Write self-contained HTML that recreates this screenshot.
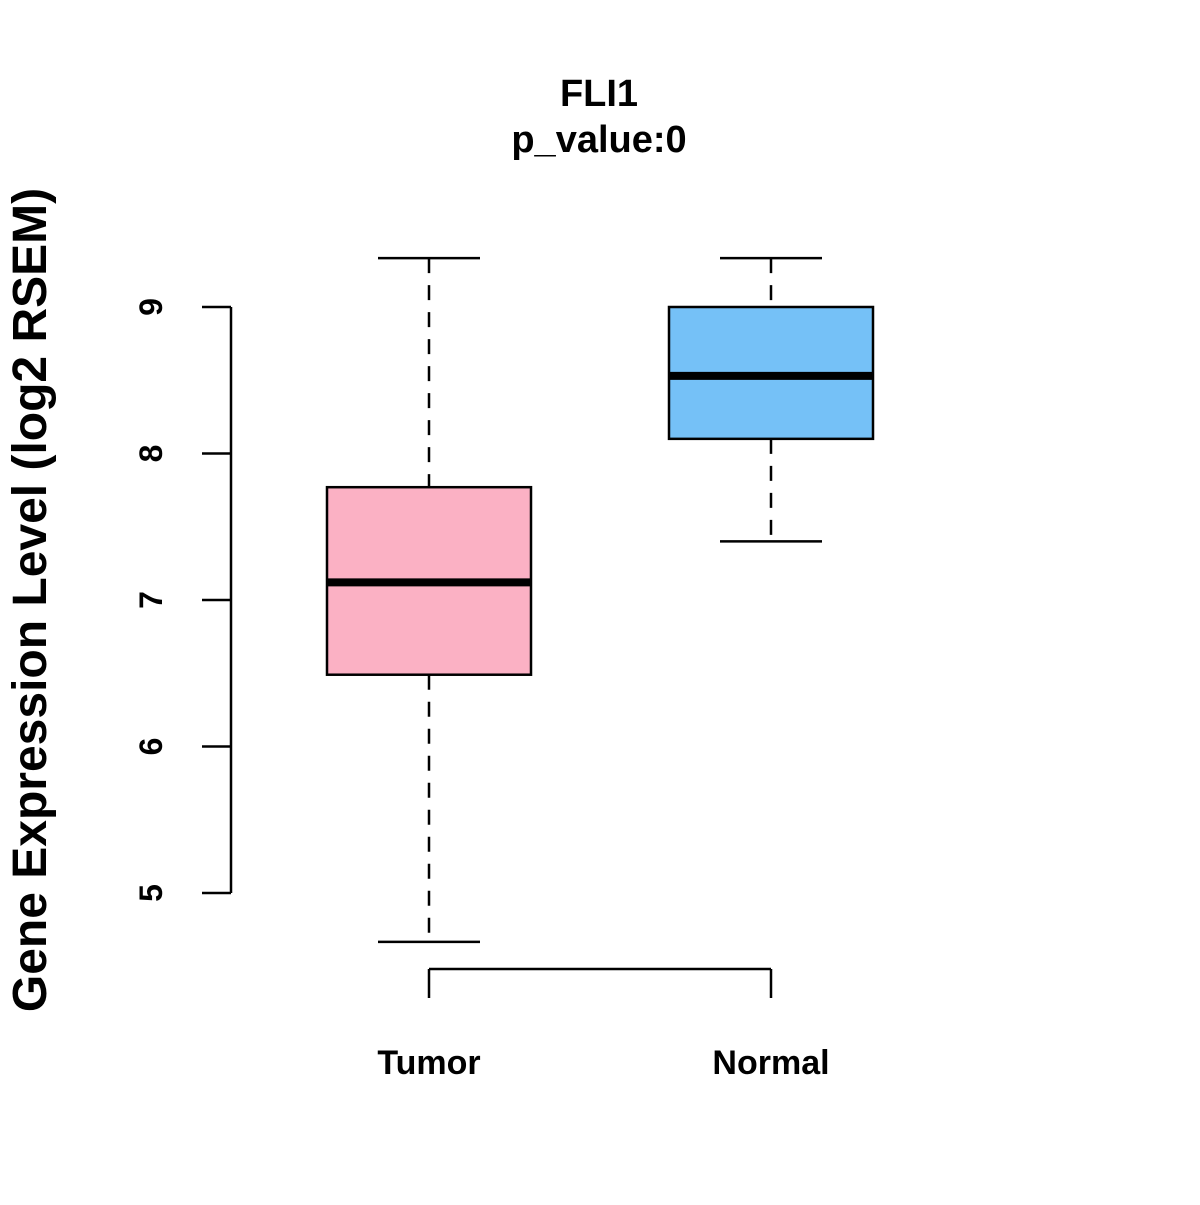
<!DOCTYPE html>
<html><head><meta charset="utf-8"><style>
html,body{margin:0;padding:0;background:#fff}
svg text{font-family:"Liberation Sans",sans-serif;font-weight:bold;fill:#000}
</style></head><body>
<svg id="chart" width="1200" height="1200" viewBox="0 0 1200 1200" xmlns="http://www.w3.org/2000/svg">
<rect width="1200" height="1200" fill="#fff"/>
<g id="plot"></g>
</svg>
<script>
const categories = ["Tumor", "Normal"];
const whiskerLow = [4.666, 7.40];
const q1 = [6.49, 8.10];
const medians = [7.12, 8.53];
const q3 = [7.77, 9.0];
const whiskerHigh = [9.334, 9.334];
const fills = ["#FBB1C4", "#75C1F7"];
const yTicks = [5, 6, 7, 8, 9];

const NS = "http://www.w3.org/2000/svg";
const g = document.getElementById("plot");
function y(v){ return 893 - (v - 5) * 146.5; }
function x(i){ return 429 + i * 342; }
function el(tag, attrs, parent){
  const e = document.createElementNS(NS, tag);
  for (const k in attrs) e.setAttribute(k, attrs[k]);
  (parent || g).appendChild(e);
  return e;
}
const ya = el("line", {x1:231, x2:231, y1:y(yTicks[0]), y2:y(yTicks[yTicks.length-1]), stroke:"#000", "stroke-width":2.5});


yTicks.forEach(t => {
  const tl = el("line", {x1:202, x2:231, y1:y(t), y2:y(t), stroke:"#000", "stroke-width":2.5});
  
  
  const tx = el("text", {x:0, y:0, "font-size":32, "text-anchor":"middle", transform:`translate(162,${y(t)}) rotate(-90)`});
  tx.textContent = t;
  
  
});
const xa = el("line", {x1:x(0), x2:x(categories.length-1), y1:969, y2:969, stroke:"#000", "stroke-width":2.5});


categories.forEach((c, i) => {
  const tl = el("line", {x1:x(i), x2:x(i), y1:969, y2:998, stroke:"#000", "stroke-width":2.5});
  
  
  const tx = el("text", {x:x(i), y:1074, "font-size":34, "text-anchor":"middle"});
  tx.textContent = c;
  
  
});
categories.forEach((c, i) => {
  const bg = el("g", {});
  
  
  const cx = x(i);
  el("line", {x1:cx, x2:cx, y1:y(whiskerHigh[i]), y2:y(q3[i]), stroke:"#000", "stroke-width":2.5, "stroke-dasharray":"15,12"}, bg);
  el("line", {x1:cx, x2:cx, y1:y(q1[i]), y2:y(whiskerLow[i]), stroke:"#000", "stroke-width":2.5, "stroke-dasharray":"15,12"}, bg);
  el("line", {x1:cx-51, x2:cx+51, y1:y(whiskerHigh[i]), y2:y(whiskerHigh[i]), stroke:"#000", "stroke-width":2.5}, bg);
  el("line", {x1:cx-51, x2:cx+51, y1:y(whiskerLow[i]), y2:y(whiskerLow[i]), stroke:"#000", "stroke-width":2.5}, bg);
  el("rect", {x:cx-102, y:y(q3[i]), width:204, height:y(q1[i]) - y(q3[i]), fill:fills[i], stroke:"#000", "stroke-width":2.5}, bg);
  el("line", {x1:cx-102, x2:cx+102, y1:y(medians[i]), y2:y(medians[i]), stroke:"#000", "stroke-width":8}, bg);
});
</script>
<svg style="position:absolute;left:0;top:0" width="1200" height="1200" xmlns="http://www.w3.org/2000/svg">
<text x="599" y="106" font-size="38" text-anchor="middle">FLI1</text>
<text x="599" y="152" font-size="38" text-anchor="middle">p_value:0</text>
<text x="0" y="0" font-size="48" text-anchor="middle" transform="translate(46,600) rotate(-90)">Gene Expression Level (log2 RSEM)</text>
</svg>
</body></html>
